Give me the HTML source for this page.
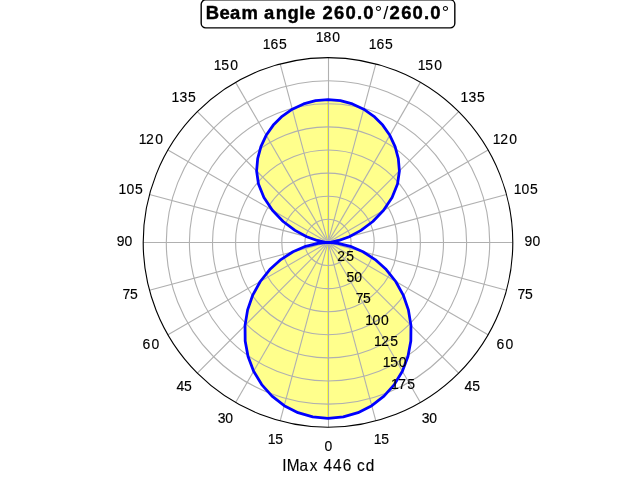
<!DOCTYPE html><html><head><meta charset="utf-8"><style>html,body{margin:0;padding:0;background:#fff;width:640px;height:480px;overflow:hidden}svg{display:block;will-change:transform}text{font-family:"Liberation Sans",sans-serif}</style></head><body>
<svg width="640" height="480" viewBox="0 0 640 480">
<defs><clipPath id="fc"><path d="M328.000,418.400 L343.271,416.950 L358.020,412.649 L371.741,405.645 L383.970,396.177 L394.294,384.568 L402.369,371.211 L407.936,356.560 L410.824,341.106 L410.965,325.365 L408.391,309.856 L403.237,295.081 L395.739,281.509 L386.230,269.553 L375.135,259.556 L362.967,251.769 L350.350,246.341 L338.093,243.283 L328.000,242.400 L331.472,242.096 L338.959,240.468 L349.242,236.708 L360.987,230.394 L372.850,221.486 L383.573,210.315 L392.075,197.534 L397.524,184.062 L399.400,171.000 L398.315,158.602 L395.094,146.580 L389.834,135.300 L382.696,125.105 L373.895,116.304 L363.700,109.166 L352.420,103.906 L340.398,100.685 L328.000,99.600 L315.602,100.685 L303.580,103.906 L292.300,109.166 L282.105,116.304 L273.304,125.105 L266.166,135.300 L260.906,146.580 L257.685,158.602 L256.600,171.000 L258.476,184.062 L263.925,197.534 L272.427,210.315 L283.150,221.486 L295.013,230.394 L306.759,236.708 L317.041,240.468 L324.528,242.096 L328.000,242.400 L317.907,243.283 L305.650,246.341 L293.033,251.769 L280.865,259.556 L269.770,269.553 L260.261,281.509 L252.763,295.081 L247.609,309.856 L245.035,325.365 L245.176,341.106 L248.064,356.560 L253.631,371.211 L261.706,384.568 L272.030,396.177 L284.259,405.645 L297.980,412.649 L312.729,416.950 L328.000,418.400 Z"/></clipPath></defs>
<rect width="640" height="480" fill="#fff"/>
<path d="M328.000,418.400 L343.271,416.950 L358.020,412.649 L371.741,405.645 L383.970,396.177 L394.294,384.568 L402.369,371.211 L407.936,356.560 L410.824,341.106 L410.965,325.365 L408.391,309.856 L403.237,295.081 L395.739,281.509 L386.230,269.553 L375.135,259.556 L362.967,251.769 L350.350,246.341 L338.093,243.283 L328.000,242.400 L331.472,242.096 L338.959,240.468 L349.242,236.708 L360.987,230.394 L372.850,221.486 L383.573,210.315 L392.075,197.534 L397.524,184.062 L399.400,171.000 L398.315,158.602 L395.094,146.580 L389.834,135.300 L382.696,125.105 L373.895,116.304 L363.700,109.166 L352.420,103.906 L340.398,100.685 L328.000,99.600 L315.602,100.685 L303.580,103.906 L292.300,109.166 L282.105,116.304 L273.304,125.105 L266.166,135.300 L260.906,146.580 L257.685,158.602 L256.600,171.000 L258.476,184.062 L263.925,197.534 L272.427,210.315 L283.150,221.486 L295.013,230.394 L306.759,236.708 L317.041,240.468 L324.528,242.096 L328.000,242.400 L317.907,243.283 L305.650,246.341 L293.033,251.769 L280.865,259.556 L269.770,269.553 L260.261,281.509 L252.763,295.081 L247.609,309.856 L245.035,325.365 L245.176,341.106 L248.064,356.560 L253.631,371.211 L261.706,384.568 L272.030,396.177 L284.259,405.645 L297.980,412.649 L312.729,416.950 L328.000,418.400 Z" fill="#ffff8c" stroke="none"/>
<rect x="327" y="90" width="1" height="340" fill="#ffff32" clip-path="url(#fc)"/>
<g fill="none" stroke="#b0b0b0" stroke-width="1.111">
<circle cx="328.0" cy="242.4" r="23.100"/>
<circle cx="328.0" cy="242.4" r="46.200"/>
<circle cx="328.0" cy="242.4" r="69.300"/>
<circle cx="328.0" cy="242.4" r="92.400"/>
<circle cx="328.0" cy="242.4" r="115.500"/>
<circle cx="328.0" cy="242.4" r="138.600"/>
<circle cx="328.0" cy="242.4" r="161.700"/>
<line x1="328.5" y1="242.4" x2="328.5" y2="427.20"/>
<line x1="328.0" y1="242.4" x2="375.830" y2="420.903"/>
<line x1="328.0" y1="242.4" x2="420.400" y2="402.441"/>
<line x1="328.0" y1="242.4" x2="458.673" y2="373.073"/>
<line x1="328.0" y1="242.4" x2="488.041" y2="334.800"/>
<line x1="328.0" y1="242.4" x2="506.503" y2="290.230"/>
<line x1="328.0" y1="242.5" x2="512.80" y2="242.5"/>
<line x1="328.0" y1="242.4" x2="506.503" y2="194.570"/>
<line x1="328.0" y1="242.4" x2="488.041" y2="150.000"/>
<line x1="328.0" y1="242.4" x2="458.673" y2="111.727"/>
<line x1="328.0" y1="242.4" x2="420.400" y2="82.359"/>
<line x1="328.0" y1="242.4" x2="375.830" y2="63.897"/>
<line x1="328.5" y1="242.4" x2="328.5" y2="57.60"/>
<line x1="328.0" y1="242.4" x2="280.170" y2="63.897"/>
<line x1="328.0" y1="242.4" x2="235.600" y2="82.359"/>
<line x1="328.0" y1="242.4" x2="197.327" y2="111.727"/>
<line x1="328.0" y1="242.4" x2="167.959" y2="150.000"/>
<line x1="328.0" y1="242.4" x2="149.497" y2="194.570"/>
<line x1="328.0" y1="242.5" x2="143.20" y2="242.5"/>
<line x1="328.0" y1="242.4" x2="149.497" y2="290.230"/>
<line x1="328.0" y1="242.4" x2="167.959" y2="334.800"/>
<line x1="328.0" y1="242.4" x2="197.327" y2="373.073"/>
<line x1="328.0" y1="242.4" x2="235.600" y2="402.441"/>
<line x1="328.0" y1="242.4" x2="280.170" y2="420.903"/>
</g>
<path d="M328.000,418.400 L343.271,416.950 L358.020,412.649 L371.741,405.645 L383.970,396.177 L394.294,384.568 L402.369,371.211 L407.936,356.560 L410.824,341.106 L410.965,325.365 L408.391,309.856 L403.237,295.081 L395.739,281.509 L386.230,269.553 L375.135,259.556 L362.967,251.769 L350.350,246.341 L338.093,243.283 L328.000,242.400 L331.472,242.096 L338.959,240.468 L349.242,236.708 L360.987,230.394 L372.850,221.486 L383.573,210.315 L392.075,197.534 L397.524,184.062 L399.400,171.000 L398.315,158.602 L395.094,146.580 L389.834,135.300 L382.696,125.105 L373.895,116.304 L363.700,109.166 L352.420,103.906 L340.398,100.685 L328.000,99.600 L315.602,100.685 L303.580,103.906 L292.300,109.166 L282.105,116.304 L273.304,125.105 L266.166,135.300 L260.906,146.580 L257.685,158.602 L256.600,171.000 L258.476,184.062 L263.925,197.534 L272.427,210.315 L283.150,221.486 L295.013,230.394 L306.759,236.708 L317.041,240.468 L324.528,242.096 L328.000,242.400 L317.907,243.283 L305.650,246.341 L293.033,251.769 L280.865,259.556 L269.770,269.553 L260.261,281.509 L252.763,295.081 L247.609,309.856 L245.035,325.365 L245.176,341.106 L248.064,356.560 L253.631,371.211 L261.706,384.568 L272.030,396.177 L284.259,405.645 L297.980,412.649 L312.729,416.950 L328.000,418.400 Z" fill="none" stroke="#0000ff" stroke-width="2.778" stroke-linejoin="round"/>
<circle cx="328.0" cy="242.4" r="184.8" fill="none" stroke="#000" stroke-width="1.111"/>
<text transform="scale(0.9964,1)" x="325.72" y="450.78" font-size="14.01" stroke="currentColor" stroke-width="0.15">0</text>
<text transform="scale(0.9964,1)" x="374.99 382.64" y="444.07" font-size="14.01" stroke="currentColor" stroke-width="0.15">15</text>
<text transform="scale(0.9964,1)" x="423.24 430.92" y="422.71" font-size="14.01" stroke="currentColor" stroke-width="0.15">30</text>
<text transform="scale(0.9964,1)" x="466.12 473.84" y="390.82" font-size="14.01" stroke="currentColor" stroke-width="0.15">45</text>
<text transform="scale(0.9964,1)" x="498.41 507.26" y="349.03" font-size="14.01" stroke="currentColor" stroke-width="0.15">60</text>
<text transform="scale(0.9964,1)" x="519.35 526.99" y="298.88" font-size="14.01" stroke="currentColor" stroke-width="0.15">75</text>
<text transform="scale(0.9964,1)" x="526.50 534.39" y="246.00" font-size="14.01" stroke="currentColor" stroke-width="0.15">90</text>
<text transform="scale(0.9964,1)" x="515.61 523.35 531.94" y="193.87" font-size="14.01" stroke="currentColor" stroke-width="0.15">105</text>
<text transform="scale(0.9964,1)" x="494.43 501.97 511.02" y="144.10" font-size="14.01" stroke="currentColor" stroke-width="0.15">120</text>
<text transform="scale(0.9964,1)" x="462.26 470.14 478.75" y="101.70" font-size="14.01" stroke="currentColor" stroke-width="0.15">135</text>
<text transform="scale(0.9964,1)" x="419.17 426.80 435.75" y="69.67" font-size="14.01" stroke="currentColor" stroke-width="0.15">150</text>
<text transform="scale(0.9964,1)" x="370.08 377.89 386.49" y="49.14" font-size="14.01" stroke="currentColor" stroke-width="0.15">165</text>
<text transform="scale(0.9964,1)" x="316.80 324.62 333.52" y="41.96" font-size="14.01" stroke="currentColor" stroke-width="0.15">180</text>
<text transform="scale(0.9964,1)" x="263.59 271.46 280.14" y="49.18" font-size="14.01" stroke="currentColor" stroke-width="0.15">165</text>
<text transform="scale(0.9964,1)" x="214.44 222.07 231.00" y="69.65" font-size="14.01" stroke="currentColor" stroke-width="0.15">150</text>
<text transform="scale(0.9964,1)" x="172.23 180.10 188.67" y="101.75" font-size="14.01" stroke="currentColor" stroke-width="0.15">135</text>
<text transform="scale(0.9964,1)" x="139.26 146.61 155.73" y="144.10" font-size="14.01" stroke="currentColor" stroke-width="0.15">120</text>
<text transform="scale(0.9964,1)" x="119.04 126.92 135.49" y="193.94" font-size="14.01" stroke="currentColor" stroke-width="0.15">105</text>
<text transform="scale(0.9964,1)" x="117.09 124.91" y="245.97" font-size="14.01" stroke="currentColor" stroke-width="0.15">90</text>
<text transform="scale(0.9964,1)" x="122.95 130.57" y="298.78" font-size="14.01" stroke="currentColor" stroke-width="0.15">75</text>
<text transform="scale(0.9964,1)" x="143.14 152.01" y="349.03" font-size="14.01" stroke="currentColor" stroke-width="0.15">60</text>
<text transform="scale(0.9964,1)" x="177.23 184.79" y="390.78" font-size="14.01" stroke="currentColor" stroke-width="0.15">45</text>
<text transform="scale(0.9964,1)" x="218.51 226.18" y="422.70" font-size="14.01" stroke="currentColor" stroke-width="0.15">30</text>
<text transform="scale(0.9964,1)" x="268.63 276.27" y="444.07" font-size="14.01" stroke="currentColor" stroke-width="0.15">15</text>
<text transform="scale(0.9964,1)" x="338.41 347.46" y="261.22" font-size="14.01" stroke="currentColor" stroke-width="0.15">25</text>
<text transform="scale(0.9964,1)" x="347.89 355.63" y="282.05" font-size="14.01" stroke="currentColor" stroke-width="0.15">50</text>
<text transform="scale(0.9964,1)" x="356.93 364.40" y="303.18" font-size="14.01" stroke="currentColor" stroke-width="0.15">75</text>
<text transform="scale(0.9964,1)" x="366.69 373.81 382.44" y="325.17" font-size="14.01" stroke="currentColor" stroke-width="0.15">100</text>
<text transform="scale(0.9964,1)" x="375.27 382.53 391.61" y="345.81" font-size="14.01" stroke="currentColor" stroke-width="0.15">125</text>
<text transform="scale(0.9964,1)" x="384.06 391.77 400.11" y="366.64" font-size="14.01" stroke="currentColor" stroke-width="0.15">150</text>
<text transform="scale(0.9964,1)" x="392.52 399.77 408.64" y="389.17" font-size="14.01" stroke="currentColor" stroke-width="0.15">175</text>
<rect x="201.19" y="-0.18" width="253.63" height="28.0" rx="4.5" ry="4.5" fill="#fff" stroke="#000" stroke-width="1.389"/>
<text transform="scale(1.0353,1)" x="198.83 212.08 222.06 233.28 236.18 255.03 266.35 277.61 288.97 294.60 297.50 311.53 322.65 333.80 344.88 350.98 361.92 370.19 376.12 387.47 398.55 409.62 415.64 426.64" y="19.02" font-size="17.81" font-weight="bold" stroke="currentColor" stroke-width="0.4">Beam angle 260.0<tspan font-weight="normal" stroke-width="0">°</tspan><tspan font-weight="normal" stroke-width="0">/</tspan>260.0<tspan font-weight="normal" stroke-width="0">°</tspan></text>
<text transform="scale(0.8992,1)" x="313.78 318.77 333.15 344.41 347.75 359.82 370.38 381.10 384.44 397.06 406.77" y="471.31" font-size="17.13" stroke="currentColor" stroke-width="0.15">IMax 446 cd</text>
</svg></body></html>
